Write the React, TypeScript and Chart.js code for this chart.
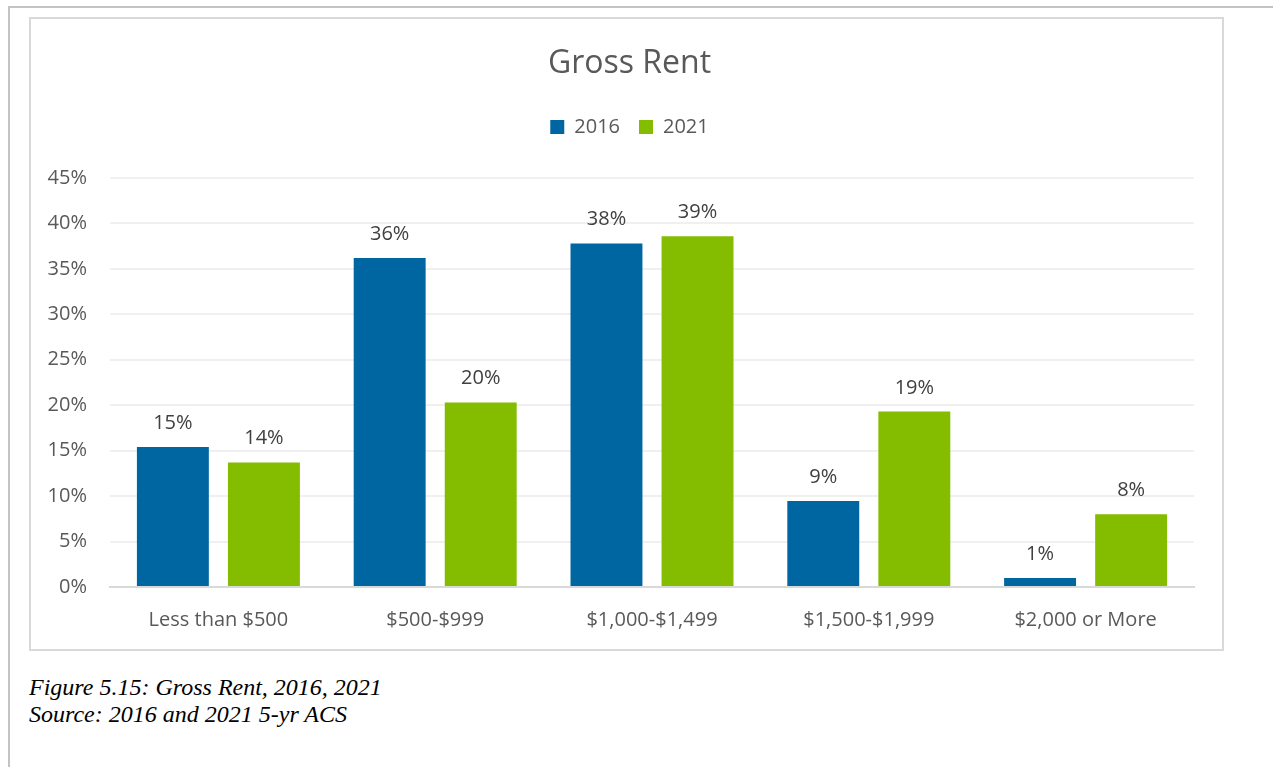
import React, { useEffect, useRef } from "react";
import { Chart, registerables } from "chart.js";

Chart.register(...registerables);

const categories = ["Less than $500", "$500-$999", "$1,000-$1,499", "$1,500-$1,999", "$2,000 or More"];
const series2016 = [15.4, 36.2, 37.8, 9.45, 1.0];
const series2021 = [13.7, 20.3, 38.6, 19.3, 8.0];
const labels2016 = ["15%", "36%", "38%", "9%", "1%"];
const labels2021 = ["14%", "20%", "39%", "19%", "8%"];
const yTicks = [0, 5, 10, 15, 20, 25, 30, 35, 40, 45];

const FONT = "'Open Sans', sans-serif";

const legendHeightPlugin = {
  id: "legendHeight",
  beforeInit(chart: any) {
    const origFit = chart.legend.fit;
    chart.legend.fit = function fit() {
      origFit.bind(chart.legend)();
      this.height = 80;
    };
  },
};

const dataLabelPlugin = {
  id: "dataLabels",
  afterDatasetsDraw(chart: any) {
    const ctx = chart.ctx;
    ctx.save();
    ctx.font = `20px ${FONT}`;
    ctx.fillStyle = "#404040";
    ctx.textAlign = "center";
    ctx.textBaseline = "alphabetic";
    const allLabels = [labels2016, labels2021];
    chart.data.datasets.forEach((_ds: any, di: number) => {
      const meta = chart.getDatasetMeta(di);
      meta.data.forEach((bar: any, i: number) => {
        ctx.fillText(allLabels[di][i], bar.x, bar.y - 18);
      });
    });
    ctx.restore();
  },
};

export default function App() {
  const canvasRef = useRef<HTMLCanvasElement>(null);

  useEffect(() => {
    if (!canvasRef.current) return;
    const chart = new Chart(canvasRef.current, {
      type: "bar",
      data: {
        labels: categories,
        datasets: [
          {
            label: "2016",
            data: series2016,
            backgroundColor: "#0066A1",
            borderWidth: 0,
            categoryPercentage: 0.84,
            barPercentage: 0.79,
          },
          {
            label: "2021",
            data: series2021,
            backgroundColor: "#84BD00",
            borderWidth: 0,
            categoryPercentage: 0.84,
            barPercentage: 0.79,
          },
        ],
      },
      options: {
        responsive: false,
        animation: false,
        devicePixelRatio: 1,
        layout: { padding: { left: 6, right: 0, top: 0, bottom: 0 } },
        plugins: {
          title: {
            display: true,
            text: "Gross Rent",
            color: "#595959",
            font: { family: FONT, size: 32, weight: "normal" },
            padding: { top: 26, bottom: 14.6 },
          },
          legend: {
            display: true,
            position: "top",
            labels: {
              color: "#595959",
              font: { family: FONT, size: 20 },
              boxWidth: 14,
              boxHeight: 14,
              padding: 19,
            },
          },
          tooltip: { enabled: false },
        },
        scales: {
          x: {
            grid: { display: false },
            border: { display: true, color: "#d9d9d9", width: 2 },
            ticks: {
              color: "#595959",
              font: { family: FONT, size: 20 },
              padding: 13,
              maxRotation: 0,
            },
            afterFit(scale: any) {
              scale.height = 62;
            },
          },
          y: {
            min: 0,
            max: 45,
            afterBuildTicks(scale: any) {
              scale.ticks = yTicks.map((v) => ({ value: v }));
            },
            grid: {
              color: (c: any) => (c.tick && c.tick.value === 0 ? "#d9d9d9" : "#f0f0f0"),
              lineWidth: 2,
              drawTicks: false,
            },
            border: { display: false },
            ticks: {
              color: "#595959",
              font: { family: FONT, size: 20 },
              padding: 23,
              callback: (v: any) => `${v}%`,
            },
            afterFit(scale: any) {
              scale.width = 73;
            },
          },
          yRightSpace: {
            position: "right",
            display: true,
            grid: { display: false },
            border: { display: false },
            ticks: { display: false },
            afterFit(scale: any) {
              scale.width = 28;
            },
          },
        },
      },
      plugins: [legendHeightPlugin, dataLabelPlugin],
    });
    return () => chart.destroy();
  }, []);

  return (
    <div>
      <div
        style={{
          position: "absolute",
          left: 8,
          top: 6,
          width: 1265,
          height: 761,
          boxSizing: "border-box",
          borderTop: "2px solid #c3c3c3",
          borderLeft: "2px solid #c3c3c3",
        }}
      />
      <div
        style={{
          position: "absolute",
          left: 29,
          top: 17,
          width: 1195,
          height: 634,
          boxSizing: "border-box",
          border: "2px solid #d9d9d9",
          background: "#fff",
        }}
      >
        <canvas ref={canvasRef} width={1191} height={630} style={{ display: "block" }} />
      </div>
      <div
        style={{
          position: "absolute",
          left: 29,
          top: 674,
          fontFamily: "'Liberation Serif', serif",
          fontStyle: "italic",
          fontSize: 24,
          lineHeight: "27px",
          color: "#000",
          whiteSpace: "nowrap",
        }}
      >
        <div>Figure 5.15: Gross Rent, 2016, 2021</div>
        <div>Source: 2016 and 2021 5-yr ACS</div>
      </div>
    </div>
  );
}
